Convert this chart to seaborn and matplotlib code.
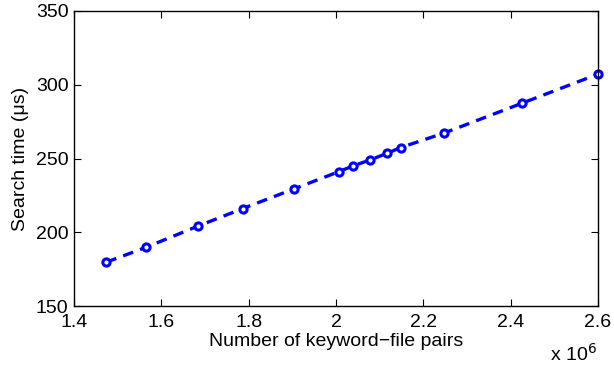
import matplotlib
matplotlib.use("Agg")
import matplotlib.pyplot as plt
import seaborn as sns
import pandas as pd
from matplotlib.ticker import FuncFormatter, FixedLocator

# Data
pairs = [1474000, 1566000, 1685000, 1786000, 1903000, 2006000, 2039000,
         2077000, 2116000, 2148000, 2248000, 2427000, 2600000]
search_time = [179.7, 189.9, 204.3, 216.0, 229.3, 241.0, 245.0,
               248.9, 253.4, 257.4, 267.3, 287.6, 307.2]

x_ticks = [1.4e6, 1.6e6, 1.8e6, 2.0e6, 2.2e6, 2.4e6, 2.6e6]
y_ticks = [150, 200, 250, 300, 350]

df = pd.DataFrame({"pairs": pairs, "time": search_time})

sns.set_style("ticks")
plt.rcParams["font.family"] = ["Liberation Sans", "DejaVu Sans"]
plt.rcParams["text.color"] = "black"
plt.rcParams["axes.labelcolor"] = "black"
plt.rcParams["xtick.color"] = "black"
plt.rcParams["ytick.color"] = "black"
plt.rcParams["lines.dashed_pattern"] = [3.2, 2.2]

fig = plt.figure(figsize=(6.14, 3.69), dpi=100)
ax = fig.add_axes([0.1205, 0.1707, 0.8534, 0.7995])

sns.lineplot(data=df, x="pairs", y="time", ax=ax, color="#0000ff",
             linewidth=2.4, linestyle="--", marker="o", markersize=5.2,
             markeredgewidth=2.2, markerfacecolor="white",
             markeredgecolor="#0000ff", sort=False, clip_on=False)

ax.set_xlim(1.4e6, 2.6e6)
ax.set_ylim(150, 350)
ax.xaxis.set_major_locator(FixedLocator(x_ticks))
ax.yaxis.set_major_locator(FixedLocator(y_ticks))
ax.xaxis.set_major_formatter(FuncFormatter(lambda v, p: f"{v/1e6:g}"))
ax.tick_params(direction="in", top=True, right=True, length=5, width=0.8,
               labelsize=14, colors="black", labelcolor="black")
ax.tick_params(axis="x", pad=5.5)
ax.tick_params(axis="y", pad=4)
for s in ax.spines.values():
    s.set_visible(True)
    s.set_color("black")
    s.set_linewidth(1.0)

ax.set_xlabel("Number of keyword\u2212file pairs", fontsize=14, labelpad=2,
              color="black")
ax.set_ylabel("Search time (\u03bcs)", fontsize=14, labelpad=5, color="black")

fig.text(0.972, 0.022, "x 10$^{6}$", ha="right", va="baseline", fontsize=14,
         color="black")

fig.savefig("out.png", dpi=100, facecolor="white")
